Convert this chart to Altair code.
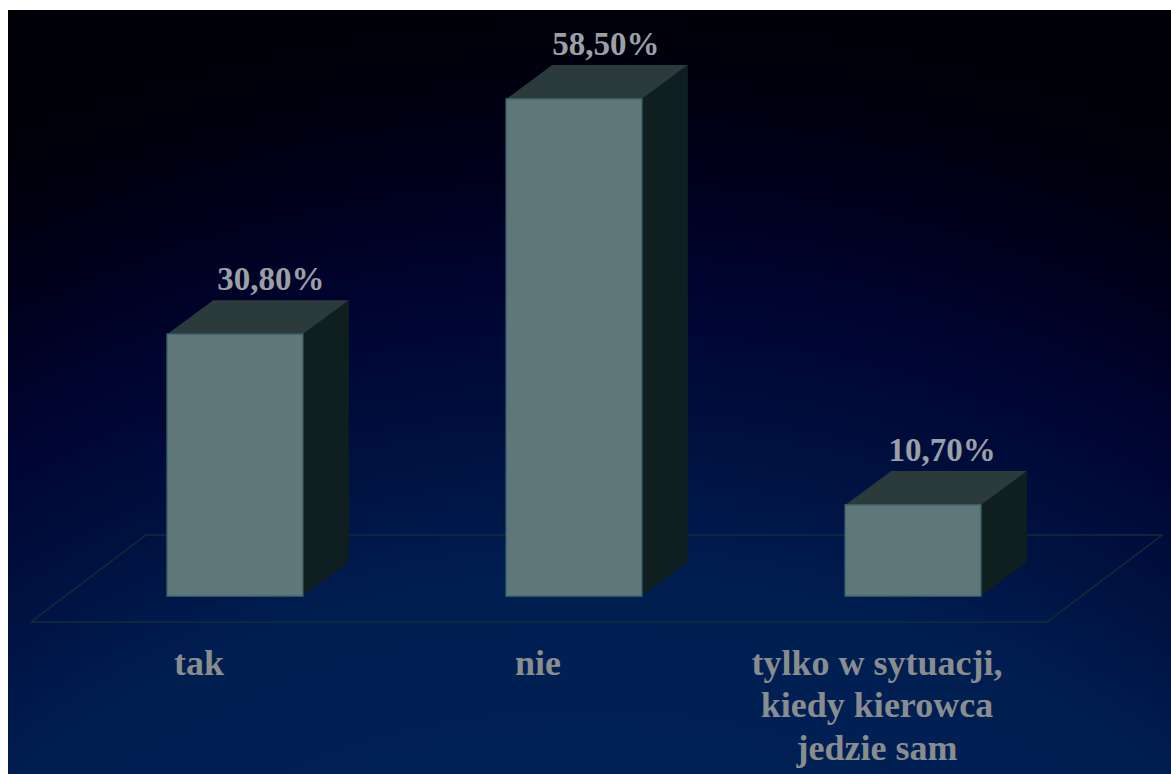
import altair as alt
import pandas as pd

# Survey answers and their shares in percent
categories = ["tak", "nie", "tylko w sytuacji,\nkiedy kierowca\njedzie sam"]
shares = [30.8, 58.5, 10.7]
value_labels = ["30,80%", "58,50%", "10,70%"]

# Extruded-box proportions, in axis units (category steps and percentage points)
HALF_WIDTH = 0.2
DEPTH_X = 0.136
DEPTH_Y = 4.0
X_DOMAIN = [-0.693, 2.761]
Y_DOMAIN = [-20.95, 70.15]
FLOOR_FRONT, FLOOR_BACK = -3.06, 7.18
FLOOR_LEFT, FLOOR_RIGHT, FLOOR_SHIFT = -0.602, 2.395, 0.34
VALUE_LABEL_SHIFT = [36, 32, 29]

x_scale = alt.Scale(domain=X_DOMAIN, range=[0, 1171], nice=False, zero=False)
y_scale = alt.Scale(domain=Y_DOMAIN, range=[774, 0], nice=False, zero=False)
X = alt.X("x:Q", scale=x_scale, axis=None)
Y = alt.Y("y:Q", scale=y_scale, axis=None)

fronts = pd.DataFrame(
    [
        {"x": i - HALF_WIDTH, "x2": i + HALF_WIDTH, "y": v, "y2": 0}
        for i, v in enumerate(shares)
    ]
)
sides = pd.DataFrame(
    [
        {"bar": i, "x": i + HALF_WIDTH + dx, "y": v + dy, "y2": dy}
        for i, v in enumerate(shares)
        for dx, dy in ((0, 0), (DEPTH_X, DEPTH_Y))
    ]
)
tops = pd.DataFrame(
    [
        {
            "bar": i,
            "y": v + dy,
            "x": i - HALF_WIDTH + dx,
            "x2": i + HALF_WIDTH + dx,
        }
        for i, v in enumerate(shares)
        for dx, dy in ((0, 0), (DEPTH_X, DEPTH_Y))
    ]
)
floor = pd.DataFrame(
    {
        "x": [
            FLOOR_LEFT,
            FLOOR_RIGHT,
            FLOOR_RIGHT + FLOOR_SHIFT,
            FLOOR_LEFT + FLOOR_SHIFT,
            FLOOR_LEFT,
        ],
        "y": [FLOOR_FRONT, FLOOR_FRONT, FLOOR_BACK, FLOOR_BACK, FLOOR_FRONT],
        "step": range(5),
    }
)

# Night-sky backdrop: a wide glow rising from below the bottom edge
backdrop = (
    alt.Chart(alt.Data(values=[{}]))
    .mark_rect(
        fill=alt.RadialGradient(
            gradient="radial",
            x1=0.5, y1=1.453, r1=0,
            x2=0.5, y2=1.453, r2=1.281,
            stops=[
                alt.GradientStop(offset=0, color="#002155"),
                alt.GradientStop(offset=0.49, color="#002155"),
                alt.GradientStop(offset=0.62, color="#001e50"),
                alt.GradientStop(offset=0.66, color="#00184a"),
                alt.GradientStop(offset=0.72, color="#00103f"),
                alt.GradientStop(offset=0.76, color="#000a38"),
                alt.GradientStop(offset=0.815, color="#000430"),
                alt.GradientStop(offset=0.9, color="#00001a"),
                alt.GradientStop(offset=1, color="#000008"),
            ],
        )
    )
    .encode(
        x=alt.value(8), x2=alt.value(1171), y=alt.value(10), y2=alt.value(774)
    )
)

floor_line = (
    alt.Chart(floor)
    .mark_line(color="#0b3038", strokeWidth=1.5)
    .encode(x=X, y=Y, order="step:O")
)

side_faces = (
    alt.Chart(sides)
    .mark_area(color="#0f1f20", interpolate="linear")
    .encode(x=X, y=Y, y2="y2:Q", detail="bar:N")
)
top_faces = (
    alt.Chart(tops)
    .mark_area(color="#2b3b3b", orient="horizontal")
    .encode(y=Y, x=X, x2="x2:Q", detail="bar:N")
)
front_faces = (
    alt.Chart(fronts)
    .mark_rect(fill="#5f7779", stroke="#41696f", strokeWidth=1.5)
    .encode(x=X, x2="x2:Q", y=Y, y2="y2:Q")
)

layers = [backdrop, floor_line, side_faces, top_faces, front_faces]

for i, (share, text, shift) in enumerate(zip(shares, value_labels, VALUE_LABEL_SHIFT)):
    layers.append(
        alt.Chart(pd.DataFrame([{"x": i, "y": share + DEPTH_Y + 1.2, "t": text}]))
        .mark_text(
            font="Liberation Serif",
            fontWeight="bold",
            fontSize=33,
            color="#9aa0a5",
            align="center",
            baseline="alphabetic",
            dx=shift,
        )
        .encode(x=X, y=Y, text="t:N")
    )

category_labels = pd.DataFrame(
    [
        {"x": i, "y": -9.25, "t": name}
        for i, name in enumerate(categories)
    ]
)
layers.append(
    alt.Chart(category_labels)
    .mark_text(
        font="Liberation Serif",
        fontWeight="bold",
        fontSize=36,
        color="#8a8d8f",
        align="center",
        baseline="alphabetic",
        lineBreak="\n",
        lineHeight=42.5,
        dx=-36,
    )
    .encode(x=X, y=Y, text="t:N")
)

chart = (
    alt.layer(*layers)
    .properties(
        width=1171,
        height=774,
        padding=0,
        autosize=alt.AutoSizeParams(type="none"),
        background="white",
    )
    .configure_view(stroke=None)
)

chart.save("out.html", embed_options={"renderer": "svg", "actions": False})
